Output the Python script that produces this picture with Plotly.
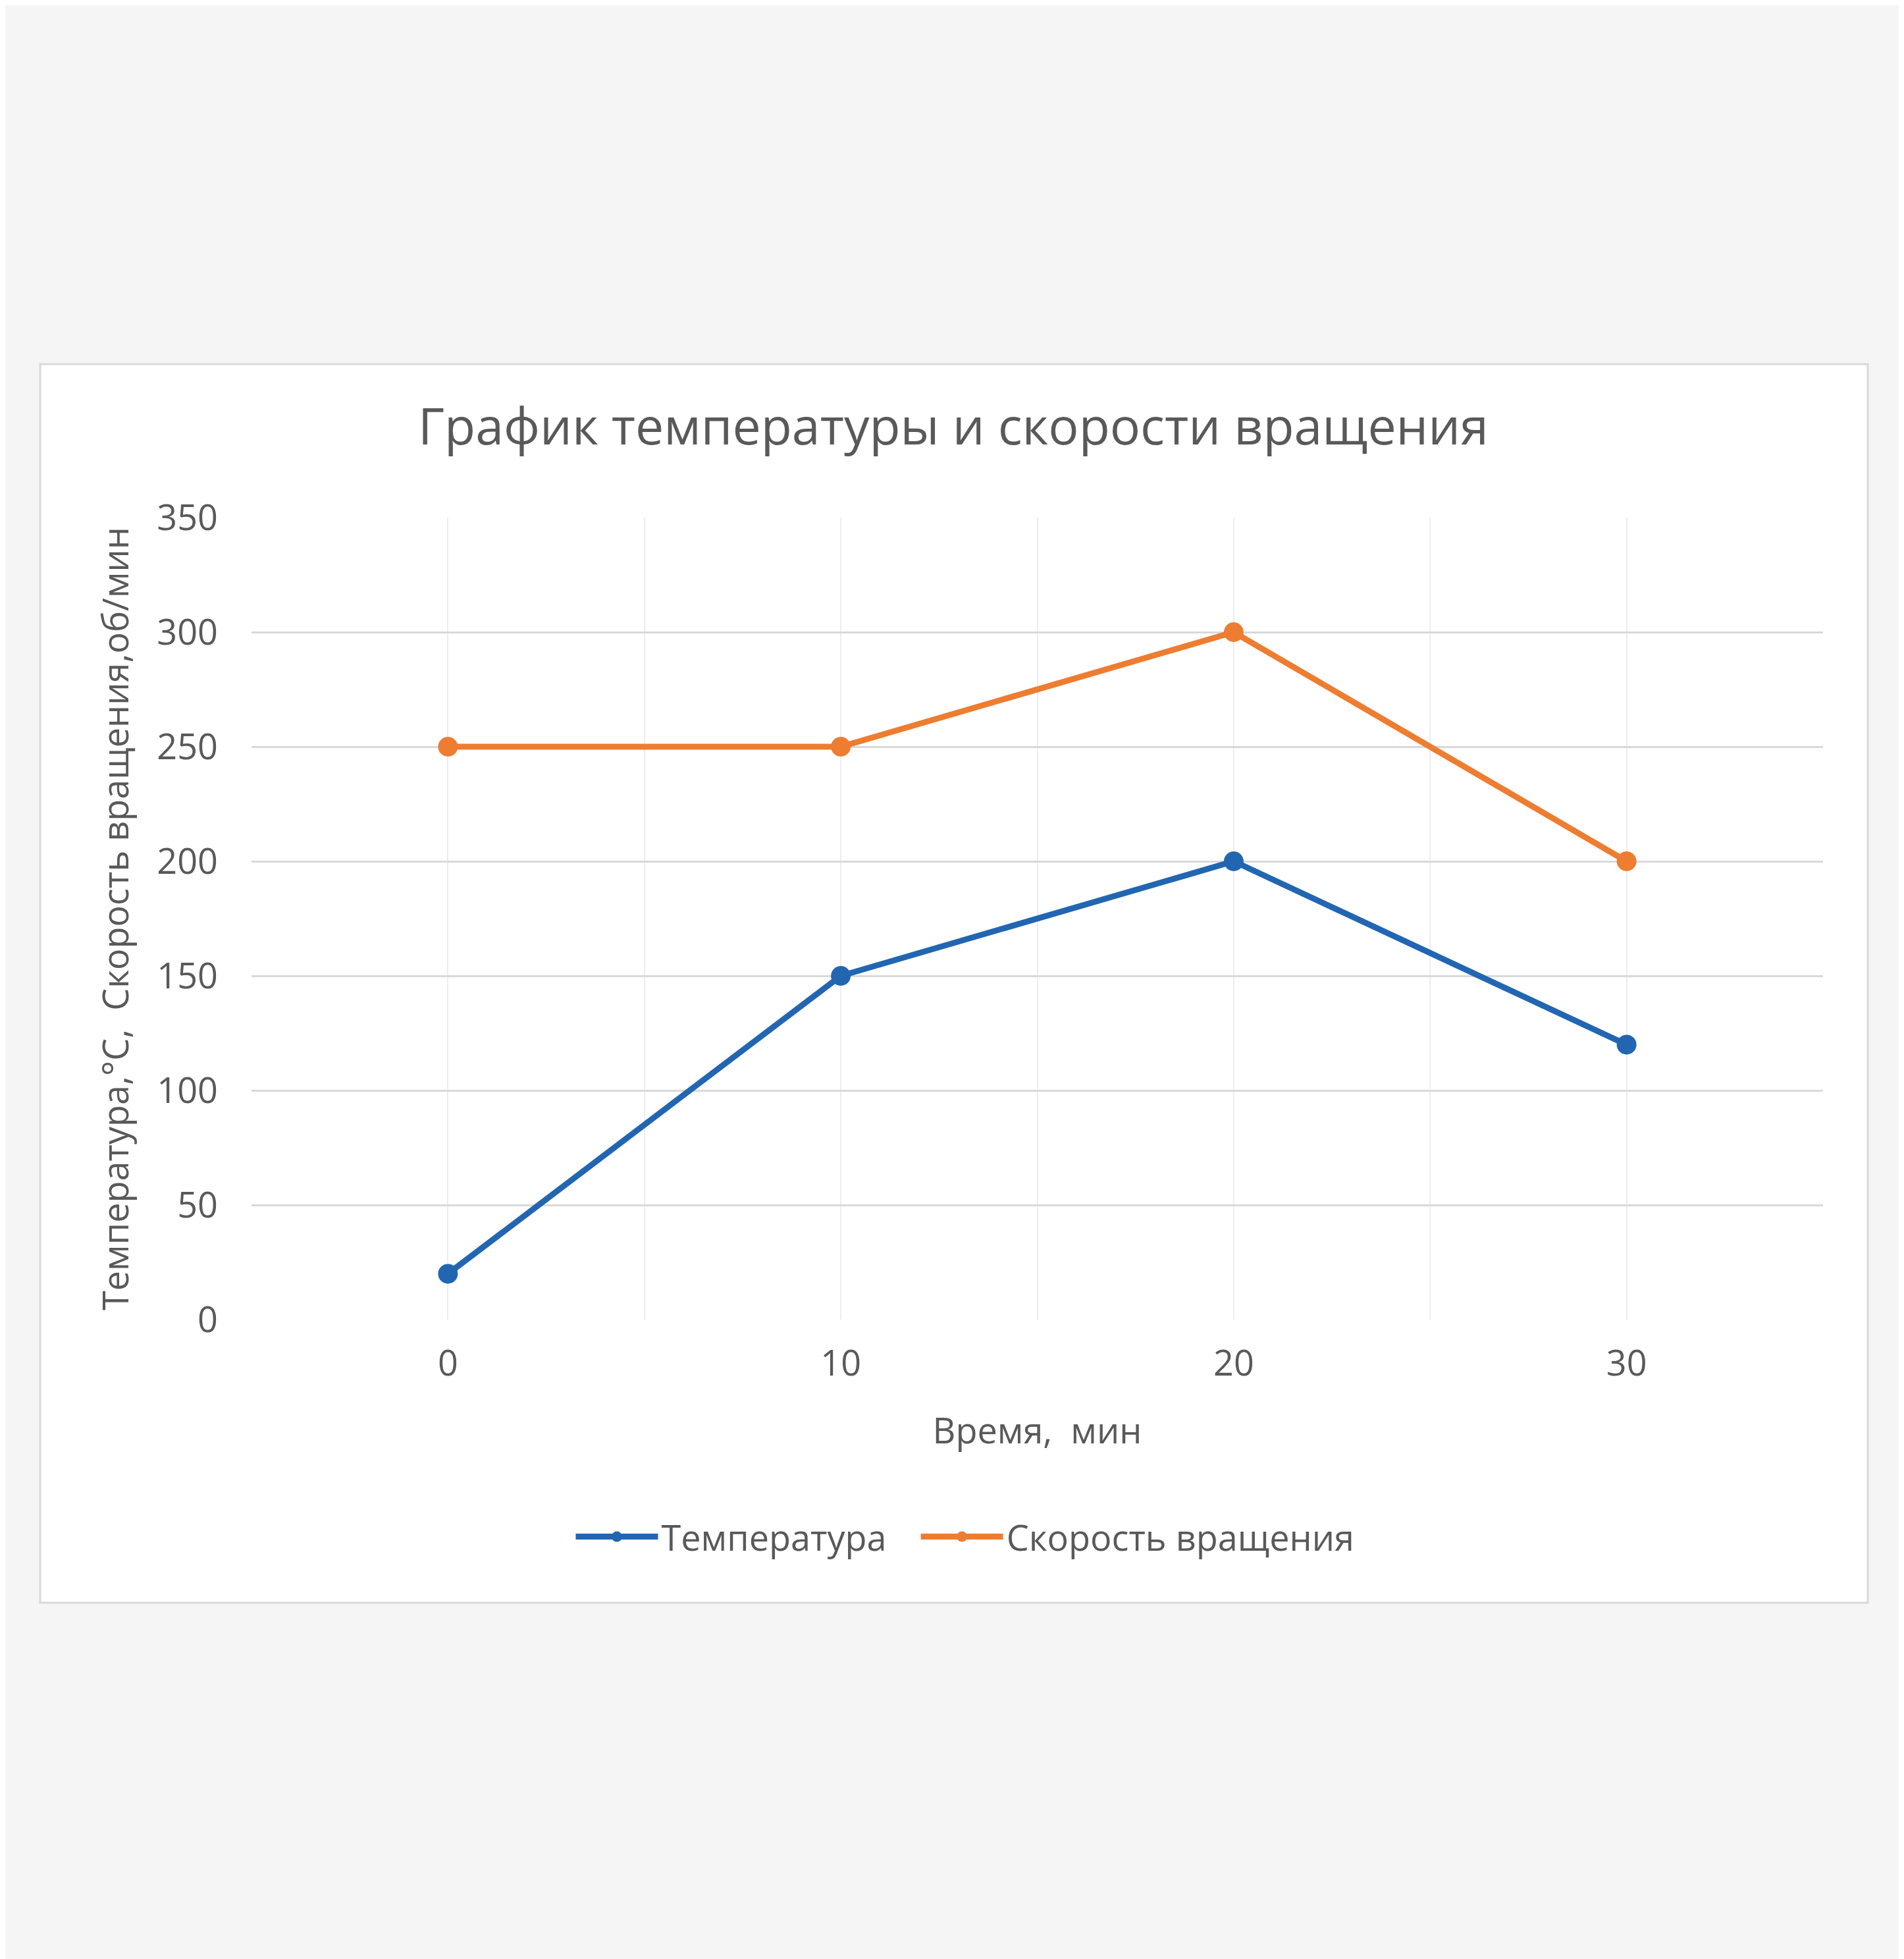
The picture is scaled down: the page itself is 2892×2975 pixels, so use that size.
import plotly.graph_objects as go

# data
time_min = [0, 10, 20, 30]
temperature = [20, 150, 200, 120]
rotation_speed = [250, 250, 300, 200]
series_names = ['Температура', 'Скорость вращения']

title_text = 'График температуры и скорости вращения'
x_title = 'Время,\u00a0 мин'
y_title = 'Температура,°С,\u00a0 Скорость вращения,об/мин'

W, H = 2892, 2975
# plot area in pixels
PL, PR, PT, PB = 374, 2761, 778, 1996
# card in pixels
CL, CR, CT, CB = 53, 2829, 545, 2426

text_col = '#595959'
font_name = 'Open Sans, Noto Sans, sans-serif'

fig = go.Figure()
fig.add_trace(go.Scatter(
    x=time_min, y=temperature, name=series_names[0] + '\u00a0' * 3, mode='lines+markers',
    line=dict(color='#2266b2', width=9), marker=dict(size=30, color='#2266b2')
))
fig.add_trace(go.Scatter(
    x=time_min, y=rotation_speed, name=series_names[1], mode='lines+markers',
    line=dict(color='#ed7d31', width=9), marker=dict(size=30, color='#ed7d31')
))

pw, ph = PR - PL, PB - PT
fig.add_shape(
    type='rect', xref='paper', yref='paper', layer='below',
    x0=(CL - PL) / pw, x1=(CR - PL) / pw,
    y0=(PB - CB) / ph, y1=(PB - CT) / ph,
    fillcolor='white', line=dict(color='#d9d9d9', width=3)
)

fig.update_layout(
    width=W, height=H,
    margin=dict(l=PL, r=W - PR, t=PT, b=H - PB),
    paper_bgcolor='#f5f5f5', plot_bgcolor='white',
    font=dict(family=font_name, color=text_col, size=54),
    title=dict(text=title_text, x=1440 / W, xref='container', xanchor='center',
               y=1 - 640 / H, yref='container', yanchor='middle',
               font=dict(size=77, color=text_col)),
    legend=dict(orientation='h', x=1458 / W, xref='container', xanchor='center',
                y=1 - 2326 / H, yref='container', yanchor='middle',
                font=dict(size=54, color=text_col), bgcolor='rgba(0,0,0,0)',
                itemwidth=125, tracegroupgap=0),
    showlegend=True,
)

fig.update_xaxes(
    range=[-5, 35], tick0=0, dtick=10, showline=False, zeroline=False,
    showgrid=True, gridcolor='#ededed', gridwidth=2,
    minor=dict(tick0=0, dtick=5, showgrid=True, gridcolor='#ededed', gridwidth=2),
    ticks='', ticklabelstandoff=30,
    title=dict(text=x_title, standoff=50, font=dict(size=54, color=text_col))
)
fig.update_yaxes(
    range=[0, 350], dtick=50, showline=False, zeroline=False,
    showgrid=True, gridcolor='#d9d9d9', gridwidth=3,
    ticks='', ticklabelstandoff=50,
    title=dict(text=y_title, standoff=25, font=dict(size=54, color=text_col))
)

fig.write_html('out.html')
